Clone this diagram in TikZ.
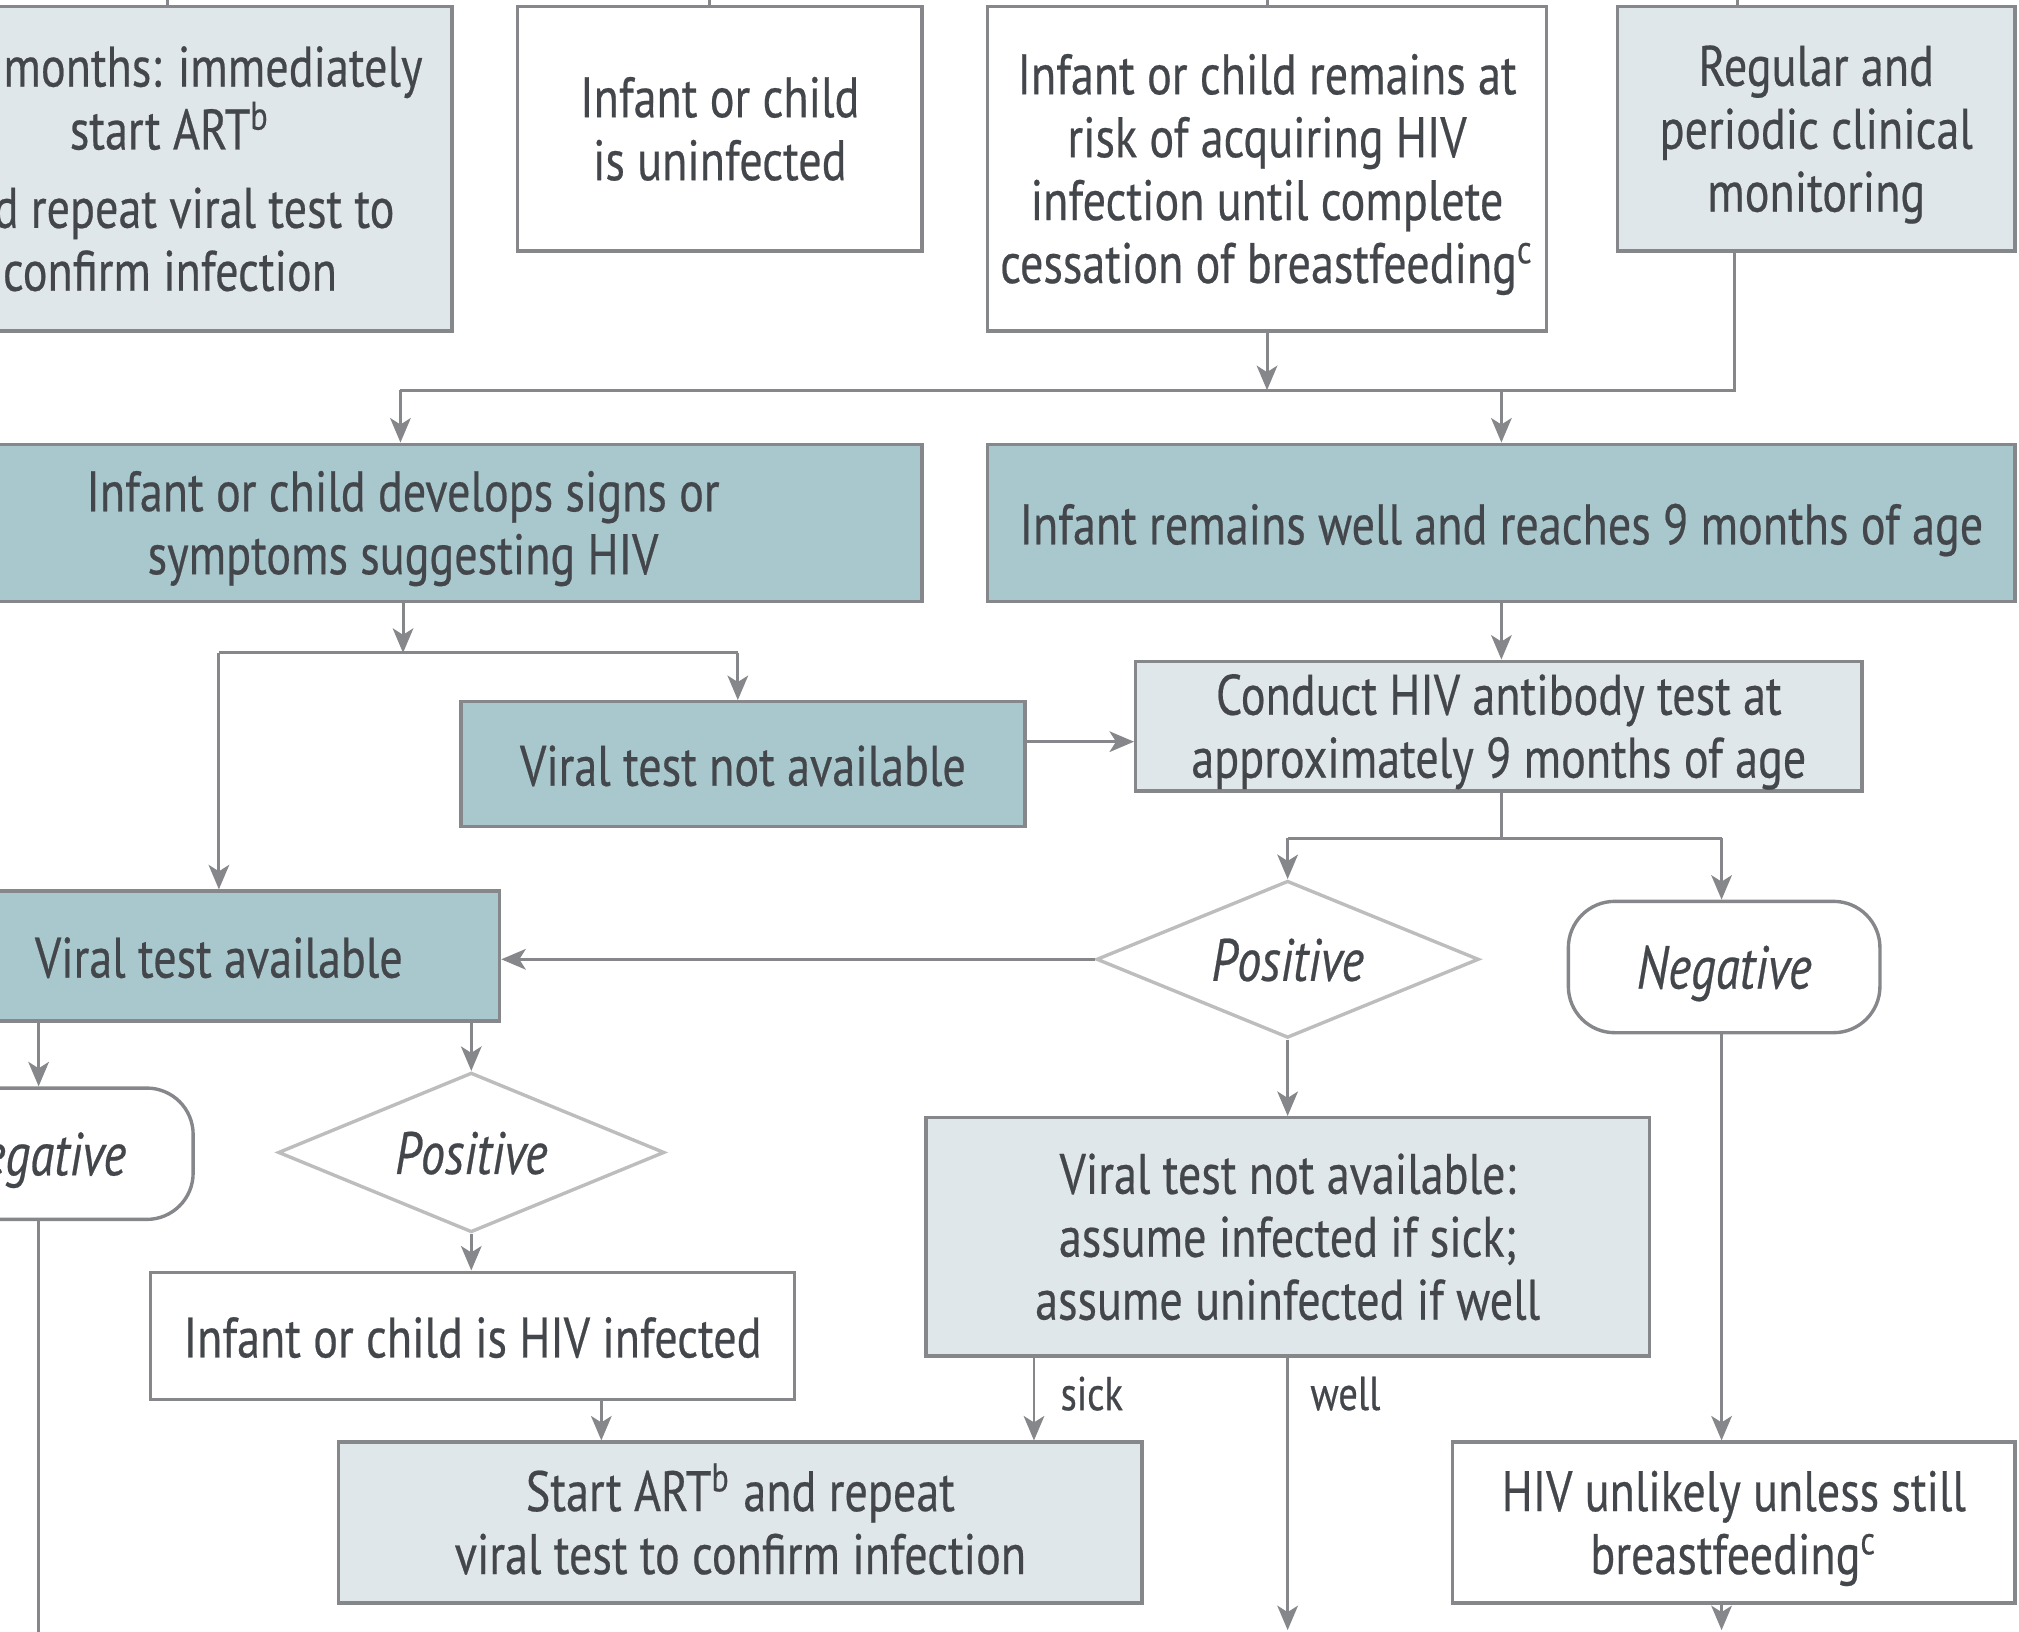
\documentclass[tikz,border=0pt]{standalone}
\usepackage{fontspec}
\setmainfont{PT Sans}[FakeStretch=0.81, FakeBold=0.4]
\usetikzlibrary{shapes.geometric,arrows.meta,calc}
\definecolor{linec}{HTML}{85878A}
\definecolor{diac}{HTML}{BDBDBD}
\definecolor{tealc}{HTML}{A9C8CD}
\definecolor{lightc}{HTML}{E0E7EA}
\definecolor{txt}{HTML}{43464A}
\newcommand{\tstrut}{\rule[-3.0pt]{0pt}{15.5pt}}
\newcommand{\fstrut}{\rule{0pt}{11.8pt}}
\tikzset{
  base/.style={draw=linec, line width=0.75pt, text=txt, align=center, inner sep=0pt,
    font=\fontsize{12.6}{13.9}\selectfont,
    execute at begin node=\tstrut, execute at end node=\tstrut},
  wbox/.style={base, fill=white},
  lbox/.style={base, fill=lightc},
  tbox/.style={base, fill=tealc},
  dia/.style={base, diamond, aspect=2.4, draw=diac, fill=white, font=\fontsize{13.2}{14}\selectfont\itshape},
  rbox/.style={base, rounded corners=0.36cm, fill=white, font=\fontsize{13.4}{14}\selectfont\itshape},
  ln/.style={draw=linec, line width=0.65pt},
  arr/.style={ln, -{Stealth[length=1.9mm, width=1.6mm, inset=0.5mm]}},
  lbl/.style={text=txt, inner sep=0pt, font=\fontsize{10.5}{12}\selectfont},
}
\begin{document}
\begin{tikzpicture}[x=1cm, y=1cm]
\path[use as bounding box] (0,0) rectangle (15.68,-12.67);
\clip (0,0) rectangle (15.68,-12.67);

% top row
\node[lbox, minimum width=4.38cm, minimum height=2.52cm] (A) at (1.32,-1.31)
  {\fstrut <18 months: immediately\\ start ART\textsuperscript{b}\\[0.12cm] and repeat viral test to\\ confirm infection};
\node[wbox, minimum width=3.14cm, minimum height=1.90cm] (B) at (5.59,-1.00)
  {\fstrut Infant or child\\ is uninfected};
\node[wbox, minimum width=4.34cm, minimum height=2.52cm] (C) at (9.84,-1.31)
  {\fstrut Infant or child remains at\\ risk of acquiring HIV\\ infection until complete\\ cessation of breastfeeding\textsuperscript{c}};
\node[lbox, minimum width=3.09cm, minimum height=1.90cm] (D) at (14.105,-1.00)
  {\fstrut Regular and\\ periodic clinical\\ monitoring};

% second row
\node[tbox, minimum width=8.06cm, minimum height=1.22cm] (E) at (3.13,-4.06)
  {\fstrut Infant or child develops signs or\\ symptoms suggesting HIV};
\node[tbox, minimum width=7.98cm, minimum height=1.22cm] (F) at (11.66,-4.06)
  {Infant remains well and reaches 9 months of age};

% third row
\node[tbox, minimum width=4.38cm, minimum height=0.97cm] (G) at (5.77,-5.935)
  {Viral test not available};
\node[lbox, minimum width=5.64cm, minimum height=0.98cm] (I) at (11.64,-5.64)
  {\fstrut Conduct HIV antibody test at\\ approximately 9 months of age};

% fourth row
\node[tbox, minimum width=4.36cm, minimum height=1.01cm] (H) at (1.70,-7.425)
  {Viral test available};
\node[dia, minimum width=2.97cm, minimum height=1.22cm] (J) at (10.00,-7.45) {Positive};
\node[rbox, minimum width=2.42cm, minimum height=1.02cm] (K) at (13.39,-7.51) {Negative};

% fifth row
\node[rbox, minimum width=2.40cm, minimum height=1.02cm] (L) at (0.30,-8.96) {Negative};
\node[dia, minimum width=3.00cm, minimum height=1.24cm] (M) at (3.66,-8.95) {Positive};
\node[lbox, minimum width=5.62cm, minimum height=1.85cm] (P) at (10.00,-9.605)
  {\fstrut Viral test not available:\\ assume infected if sick;\\ assume uninfected if well};

% lower rows
\node[wbox, minimum width=5.00cm, minimum height=0.99cm] (N) at (3.67,-10.375)
  {Infant or child is HIV infected};
\node[lbox, minimum width=6.24cm, minimum height=1.25cm] (O) at (5.75,-11.825)
  {\fstrut Start ART\textsuperscript{b} and repeat\\ viral test to confirm infection};
\node[wbox, minimum width=4.37cm, minimum height=1.25cm] (Q) at (13.465,-11.825)
  {\fstrut HIV unlikely unless still\\ breastfeeding\textsuperscript{c}};

% top stubs
\coordinate (tA) at (1.30,0.3);
\coordinate (tB) at (5.51,0.3);
\coordinate (tC) at (9.84,0.3);
\coordinate (tD) at (13.49,0.3);
\draw[ln] (tA) -- (tA |- A.north);
\draw[ln] (tB) -- (tB |- B.north);
\draw[ln] (tC) -- (tC |- C.north);
\draw[ln] (tD) -- (tD |- D.north);

% junction 1
\coordinate (j1L) at (3.11,-3.03);
\coordinate (j1F) at (11.66,-3.03);
\coordinate (j1R) at (13.47,-3.03);
\draw[arr] (C.south) -- (C.south |- j1L);
\draw[ln] (j1R |- D.south) -- (j1R) -- (j1L);
\draw[arr] (j1L) -- (j1L |- E.north);
\draw[arr] (j1F) -- (j1F |- F.north);

% junction 2
\coordinate (j2L) at (1.70,-5.07);
\coordinate (j2R) at (5.73,-5.07);
\draw[arr] (E.south) -- (E.south |- j2L);
\draw[ln] (j2L) -- (j2R);
\draw[arr] (j2R) -- (j2R |- G.north);
\draw[arr] (j2L) -- (j2L |- H.north);

% G -> I, F -> I
\coordinate (yGI) at (0,-5.76);
\draw[arr] (G.east |- yGI) -- (I.west |- yGI);
\draw[arr] (F.south) -- (F.south |- I.north);

% junction 3
\coordinate (j3) at (11.66,-6.51);
\coordinate (j3L) at (10.00,-6.51);
\coordinate (j3R) at (13.37,-6.51);
\draw[ln] (j3 |- I.south) -- (j3);
\draw[ln] (j3L) -- (j3R);
\draw[arr] (j3L) -- (J.north);
\draw[arr] (j3R) -- (j3R |- K.north);

% J -> H
\draw[arr] (J.west) -- (J.west -| H.east);

% H -> L, M
\draw[arr] (L.north |- H.south) -- (L.north);
\draw[arr] (M.north |- H.south) -- (M.north);
\coordinate (bL) at (0.30,-13.0);
\draw[ln] (L.south) -- (bL);

% M -> N -> O
\draw[arr] (M.south) -- (M.south |- N.north);
\coordinate (xNO) at (4.67,0);
\draw[arr] (xNO |- N.south) -- (xNO |- O.north);

% J -> P
\draw[arr] (J.south) -- (P.north);

% P -> O (sick), P -> down (well)
\coordinate (xS) at (8.03,0);
\draw[arr] (xS |- P.south) -- (xS |- O.north);
\node[lbl, anchor=west] (sick) at ($(xS |- P.south)+(0.20,-0.28)$) {sick};
\coordinate (bW) at (10.00,-12.66);
\draw[arr] (P.south) -- (bW);
\node[lbl, anchor=west] (well) at ($(P.south)+(0.17,-0.28)$) {well};

% K -> Q -> down
\draw[arr] (j3R |- K.south) -- (j3R |- Q.north);
\coordinate (bQ) at (13.37,-12.66);
\draw[arr] (j3R |- Q.south) -- (bQ);
\end{tikzpicture}
\end{document}
